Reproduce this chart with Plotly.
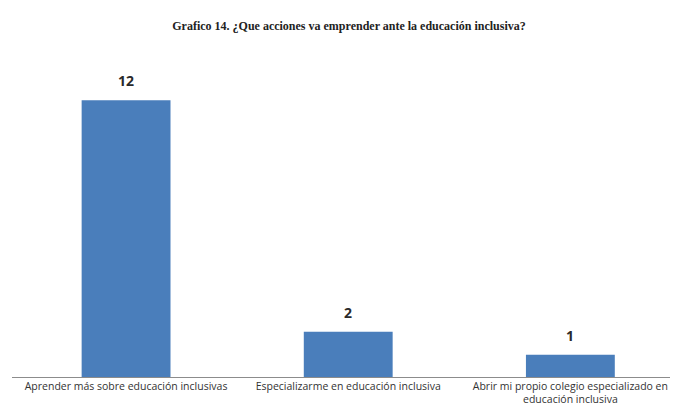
import plotly.graph_objects as go

categories = ["Aprender más sobre educación inclusivas",
              "Especializarme en educación inclusiva",
              "Abrir mi propio colegio especializado en<br>educación inclusiva"]
values = [12, 2, 1]
title = "Grafico 14. ¿Que acciones va emprender ante la educación inclusiva?"

W, H = 677, 413
ml, mr, mt, mb = 15, 0, 54, 35

fig = go.Figure()
fig.add_trace(go.Bar(
    x=categories, y=values,
    marker=dict(color="#4A7EBB", line=dict(width=0)),
))

for c, v in zip(categories, values):
    fig.add_annotation(x=c, y=v, text="<b>" + str(v) + "</b>", showarrow=False,
                       yanchor="bottom", yshift=8,
                       font=dict(family="Open Sans, Liberation Sans, sans-serif", size=14, color="#2a2a2a"))

pw = W - ml - mr
fig.add_shape(type="line", xref="paper", yref="y",
              x0=(12 - ml) / pw, x1=(670 - ml) / pw, y0=0, y1=0,
              line=dict(color="#8c8c8c", width=2))

fig.update_layout(
    width=W, height=H,
    margin=dict(l=ml, r=mr, t=mt, b=mb),
    paper_bgcolor="white", plot_bgcolor="white",
    bargap=0.6,
    showlegend=False,
    title=dict(text="<b>" + title + "</b>", x=349 / W, xanchor="center", y=1 - 26 / H, yanchor="middle",
               font=dict(family="Liberation Serif, DejaVu Serif, serif", size=12, color="#222222")),
    xaxis=dict(showline=False, showgrid=False, zeroline=False, ticks="", automargin=False,
               range=[-0.5, 2.48],
               tickfont=dict(family="Open Sans, Liberation Sans, sans-serif", size=10.5, color="#333333")),
    yaxis=dict(range=[0, 14], visible=False, showgrid=False, zeroline=False),
)

fig.write_html("out.html", config={"displayModeBar": False},
               post_script="document.body.style.margin='0';")
